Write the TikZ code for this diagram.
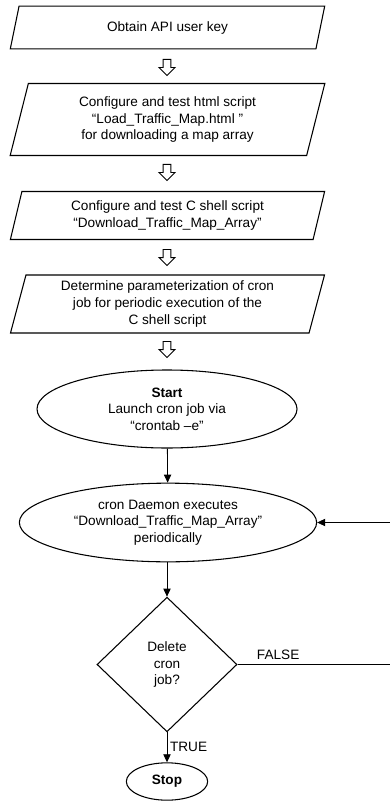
\documentclass[tikz,border=0pt]{standalone}
\usepackage{fontspec}
\setmainfont{Liberation Sans}
\usepackage{tikz}
\usetikzlibrary{shapes.geometric, shapes.arrows, arrows.meta, positioning}
\tikzstyle{iobox} = [draw, trapezium, trapezium left angle=76, trapezium right angle=104, trapezium stretches=true, minimum width=236pt, align=center, inner ysep=1pt, line width=0.8pt]
\tikzstyle{oval} = [draw, ellipse, align=center, line width=0.8pt, inner sep=1pt]
\tikzstyle{decision} = [draw, diamond, aspect=1, minimum width=105pt, minimum height=101pt, align=center, line width=0.8pt, inner sep=1pt]
\tikzstyle{hollow} = [draw, single arrow, shape border rotate=270, minimum height=12pt, inner sep=2.6pt, single arrow head extend=3pt, line width=0.7pt]
\tikzstyle{arrow} = [line width=0.6pt, -{Triangle[length=6pt,width=5.5pt]}]

\begin{document}
\begin{tikzpicture}[x=0.75pt, y=-0.75pt, font=\fontsize{10.2}{12.5}\selectfont]
    \useasboundingbox (0,0) rectangle (389,802);

    % preparation steps
    \node (key) [iobox, minimum height=32pt] at (167.5,27.5) {Obtain API user key};
    \node (a1) [hollow] at (167,65.5) {};
    \node (html) [iobox, minimum height=54pt] at (167.5,119.5) {Configure and test html script\\“Load\_Traffic\_Map.html ”\\for downloading a map array};
    \node (a2) [hollow] at (167,170.5) {};
    \node (shell) [iobox, minimum height=36pt] at (167.5,215.5) {Configure and test C shell script\\“Download\_Traffic\_Map\_Array”};
    \node (a3) [hollow] at (167,255.5) {};
    \node (param) [iobox, minimum height=43.5pt] at (167.5,304) {Determine parameterization of cron\\job for periodic execution of the\\C shell script};
    \node (a4) [hollow] at (167,347.5) {};

    % cron loop
    \node (start) [oval, minimum width=195pt, minimum height=58.5pt] at (167,409) {\textbf{Start}\\Launch cron job via\\“crontab –e”};
    \node (daemon) [oval, minimum width=223pt, minimum height=59pt] at (168,522.5) {cron Daemon executes\\“Download\_Traffic\_Map\_Array”\\periodically};
    \node (del) [decision] at (167,664.5) {Delete\\cron\\job?};
    \node (stop) [oval, minimum width=61pt, minimum height=28pt] at (167,781.5) {\textbf{Stop}};
    \coordinate (loopback) at (400,664.5);

    \draw [arrow] (start) -- (daemon);
    \draw [arrow] (daemon.south -| del.north) -- (del);
    \draw [arrow] (del) -- node[right, inner sep=2pt] {TRUE} (stop);
    \draw [arrow] (del.east) -- node[pos=0.25, above] {FALSE} (loopback) |- (daemon.east);
\end{tikzpicture}
\end{document}
